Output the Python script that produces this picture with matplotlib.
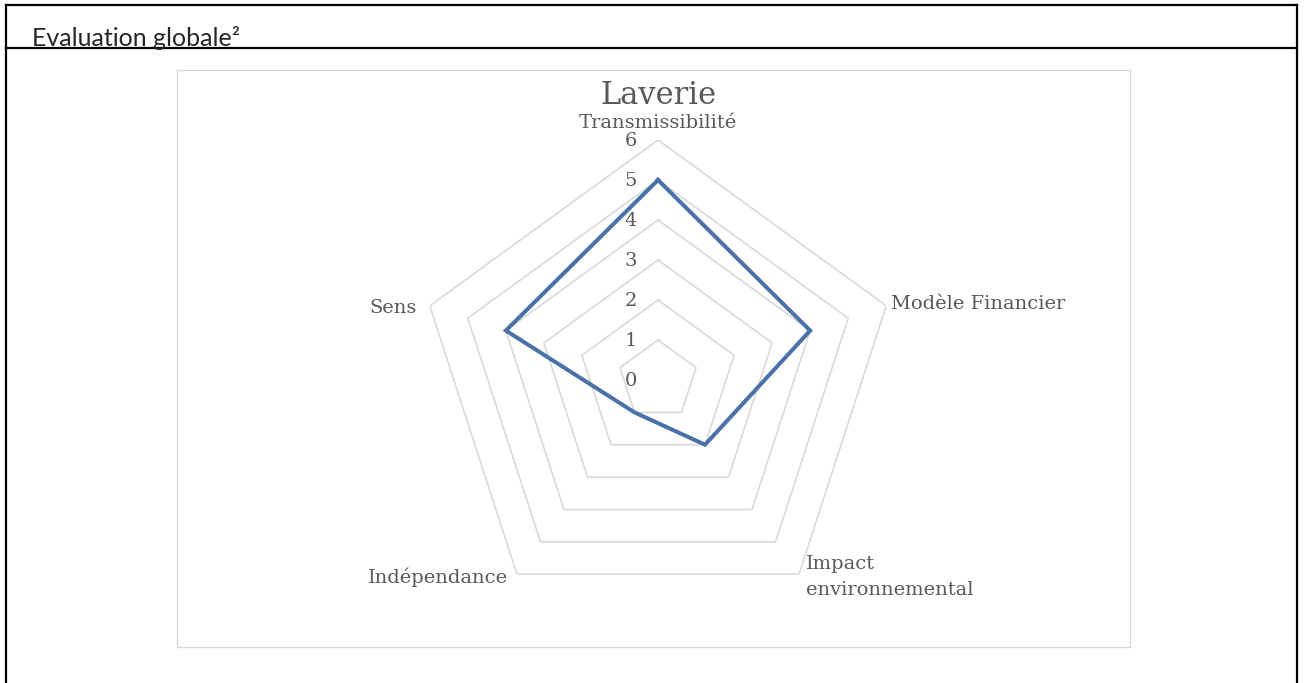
import numpy as np
import matplotlib
matplotlib.use("Agg")
import matplotlib.pyplot as plt
from matplotlib.transforms import offset_copy
from matplotlib.patches import Rectangle
from matplotlib.lines import Line2D

# ---- data ----
categories = ["Transmissibilité", "Modèle Financier", "Impact\nenvironnemental", "Indépendance", "Sens"]
values = [5, 4, 2, 1, 4]
levels = [0, 1, 2, 3, 4, 5, 6]
chart_title = "Laverie"
header = "Evaluation globale²"

W, H = 1314, 683
fig = plt.figure(figsize=(W / 100, H / 100), dpi=100)
fig.patch.set_facecolor("white")

# document frame
fig.add_artist(Line2D([6 / W, 6 / W], [0, 1 - 5 / H], color="black", lw=1.6, transform=fig.transFigure))
fig.add_artist(Line2D([1297 / W, 1297 / W], [0, 1 - 5 / H], color="black", lw=1.6, transform=fig.transFigure))
fig.add_artist(Line2D([6 / W, 1297 / W], [1 - 5 / H, 1 - 5 / H], color="black", lw=1.6, transform=fig.transFigure))
fig.add_artist(Line2D([6 / W, 1297 / W], [1 - 48 / H, 1 - 48 / H], color="black", lw=1.6, transform=fig.transFigure))
fig.text(32 / W, 1 - 46 / H, header, family="Lato", fontsize=18, color="#262626", ha="left", va="baseline")

# chart area box
fig.add_artist(Rectangle((177 / W, 1 - 647 / H), (1130 - 177) / W, (647 - 70) / H,
                         transform=fig.transFigure, fill=False, edgecolor="#d9d9d9", lw=1.0))

# radar axes: centre (658,380), radius 240 px for value 6
cx, cy, R = 658, 380, 240
ax = fig.add_axes([(cx - R) / W, (H - cy - R) / H, 2 * R / W, 2 * R / H], projection="polar")
ax.set_theta_offset(np.pi / 2)
ax.set_theta_direction(-1)
ax.set_ylim(0, max(levels))
ax.grid(False)
ax.set_xticks([])
ax.set_yticks([])
ax.spines["polar"].set_visible(False)
ax.patch.set_alpha(0)

n = len(categories)
theta = np.linspace(0, 2 * np.pi, n, endpoint=False)
theta_c = np.append(theta, theta[0])

for lv in levels[1:]:
    ax.plot(theta_c, [lv] * (n + 1), color="#d9d9d9", lw=1.2, zorder=1)

vals_c = values + values[:1]
ax.plot(theta_c, vals_c, color="#4a72a8", lw=2.9, zorder=3, solid_joinstyle="miter")

txt_col = "#595959"
font = "DejaVu Serif"
fs = 14
tick_tr = offset_copy(ax.transData, fig=fig, x=-27, y=-1, units="dots")
for lv in levels:
    ax.text(0, lv, str(lv), transform=tick_tr, ha="center", va="center",
            family=font, fontsize=fs, color=txt_col)

rmax = max(levels)
label_cfg = [
    (0, 17, "center", "center"),
    (5, 2, "left", "center"),
    (7, -3, "left", "center"),
    (-9, -3, "right", "center"),
    (-13, -2, "right", "center"),
]
for i, (lab, (dx, dy, ha, va)) in enumerate(zip(categories, label_cfg)):
    tr = offset_copy(ax.transData, fig=fig, x=dx, y=dy, units="dots")
    ax.text(theta[i], rmax, lab, transform=tr, ha=ha, va=va, family=font,
            fontsize=fs, color=txt_col, linespacing=1.55)

tr = offset_copy(ax.transData, fig=fig, x=0, y=45, units="dots")
ax.text(0, rmax, chart_title, transform=tr, ha="center", va="center", family=font,
        fontsize=22, color=txt_col)

fig.savefig("out.png", dpi=100)
